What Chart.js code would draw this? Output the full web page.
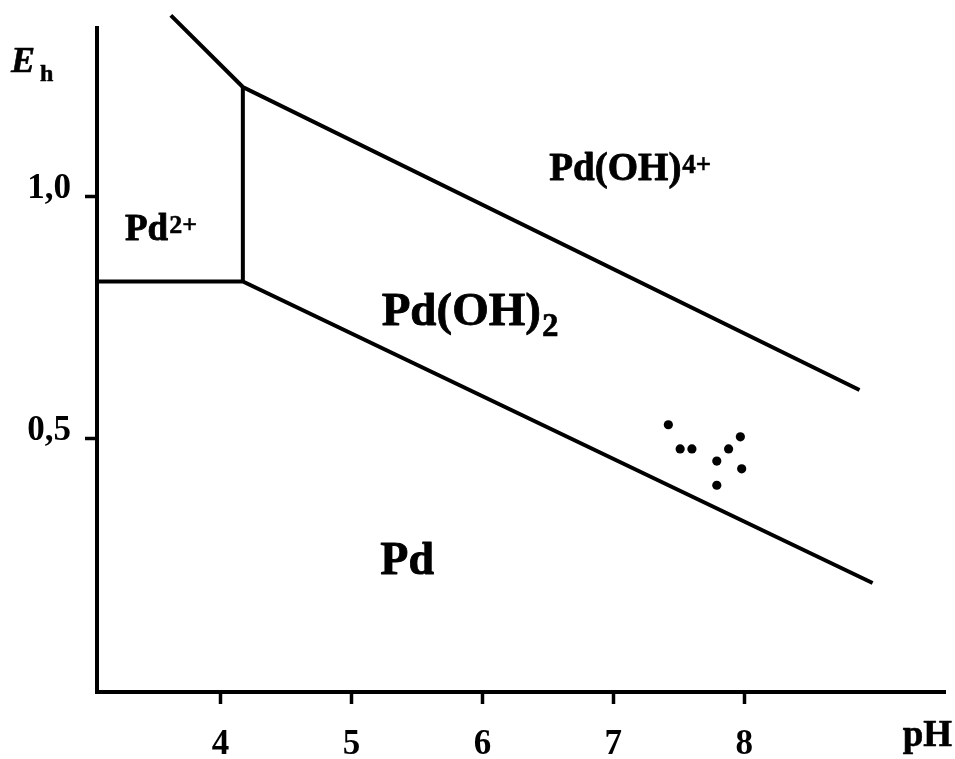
<!DOCTYPE html>
<html>
<head>
<meta charset="utf-8">
<script src="https://cdn.jsdelivr.net/npm/chart.js@4"></script>
<style>
  html, body { margin: 0; padding: 0; background: #fff; }
  canvas { display: block; }
</style>
</head>
<body>
<canvas id="chart" width="955" height="759"></canvas>
<script>
/* Pourbaix-type Eh–pH diagram for palladium. */
(function () {
  "use strict";

  // ── Data ───────────────────────────────────────────────────────
  var xTicks = [4, 5, 6, 7, 8];
  var yTicks = [0.5, 1.0];

  // Boundary lines (pH, Eh)
  var upperPH = [3.62, 4.17, 8.88];
  var upperEh = [1.375, 1.227, 0.601];
  var wallPH = [4.17, 4.17];
  var wallEh = [1.227, 0.825];
  var lowerPH = [3.056, 4.17, 8.98];
  var lowerEh = [0.825, 0.825, 0.202];

  // Sample points
  var samplePH = [7.42, 7.51, 7.60, 7.79, 7.88, 7.97, 7.98, 7.79];
  var sampleEh = [0.529, 0.479, 0.479, 0.454, 0.479, 0.504, 0.438, 0.404];

  // Field labels
  var fieldText = ["Pd", "Pd(OH)", "Pd(OH)", "Pd"];
  var fieldSup = ["2+", "4+", "", ""];
  var fieldSub = ["", "", "2", ""];
  var fieldPH = [3.27, 6.51, 5.23, 5.22];
  var fieldEh = [0.911, 1.035, 0.736, 0.221];
  var fieldSize = [37, 39, 47, 46];

  var serif = "'Liberation Serif', 'DejaVu Serif', serif";
  var black = "#000";

  function pts(xs, ys) {
    return xs.map(function (x, i) { return { x: x, y: ys[i] }; });
  }

  function lineSet(xs, ys) {
    return {
      type: "line",
      data: pts(xs, ys),
      borderColor: black,
      borderWidth: 4,
      pointRadius: 0,
      tension: 0,
      clip: false,
    };
  }

  // heavy text: fill plus a thin stroke, like the scanned original
  function heavyText(ctx, t, x, y, w) {
    ctx.fillText(t, x, y);
    ctx.lineWidth = w;
    ctx.strokeText(t, x, y);
  }

  // ── Text overlay: field names and axis titles ─────────────────
  var labelsPlugin = {
    id: "labels",
    afterDraw: function (chart) {
      var ctx = chart.ctx;
      var xs = chart.scales.x;
      var ys = chart.scales.y;
      var area = chart.chartArea;
      ctx.save();
      ctx.fillStyle = black;
      ctx.strokeStyle = black;
      ctx.lineJoin = "round";
      ctx.textAlign = "left";
      ctx.textBaseline = "alphabetic";

      fieldText.forEach(function (t, i) {
        var size = fieldSize[i];
        var px = xs.getPixelForValue(fieldPH[i]);
        var py = ys.getPixelForValue(fieldEh[i]);
        ctx.font = "bold " + size + "px " + serif;
        heavyText(ctx, t, px, py, 0.8);
        var w = ctx.measureText(t).width;
        if (fieldSup[i]) {
          ctx.font = "bold " + Math.round(size * 0.7) + "px " + serif;
          heavyText(ctx, fieldSup[i], px + w + 1, py - size * 0.19, 0.5);
        }
        if (fieldSub[i]) {
          ctx.font = "bold " + Math.round(size * 0.7) + "px " + serif;
          heavyText(ctx, fieldSub[i], px + w + 1, py + size * 0.25, 0.6);
        }
      });

      // Axis titles
      ctx.font = "italic bold 36px " + serif;
      heavyText(ctx, "E", 11, area.top + 44, 0.6);
      ctx.font = "bold 24px " + serif;
      heavyText(ctx, "h", 40, area.top + 53, 0.5);

      ctx.textAlign = "right";
      ctx.font = "bold 37px " + serif;
      heavyText(ctx, "pH", area.right + 7, area.bottom + 54, 0.6);
      ctx.restore();
    },
  };

  new Chart(document.getElementById("chart"), {
    type: "scatter",
    data: {
      datasets: [
        lineSet(upperPH, upperEh),
        lineSet(wallPH, wallEh),
        lineSet(lowerPH, lowerEh),
        {
          type: "scatter",
          data: pts(samplePH, sampleEh),
          backgroundColor: black,
          borderColor: black,
          pointRadius: 4.6,
          borderWidth: 0,
        },
      ],
    },
    options: {
      responsive: false,
      animation: false,
      events: [],
      layout: { padding: { top: 28, right: 10, left: 0, bottom: 0 } },
      plugins: { legend: { display: false }, tooltip: { enabled: false } },
      scales: {
        x: {
          type: "linear",
          min: 3.056,
          max: 9.533,
          afterFit: function (s) {
            s.height = 67;
            s.paddingLeft = 0;
            s.paddingRight = 0;
          },
          afterBuildTicks: function (s) {
            s.ticks = xTicks.map(function (v) { return { value: v }; });
          },
          border: { display: true, color: black, width: 4 },
          grid: {
            drawOnChartArea: false,
            drawTicks: true,
            tickLength: 12,
            tickWidth: 3.5,
            tickColor: black,
          },
          ticks: {
            color: black,
            padding: 20,
            maxRotation: 0,
            font: { family: serif, size: 35, weight: "bold" },
            callback: function (v) { return String(v); },
          },
        },
        y: {
          type: "linear",
          min: -0.0233,
          max: 1.349,
          afterFit: function (s) {
            s.width = 97;
            s.paddingTop = 0;
            s.paddingBottom = 0;
          },
          afterBuildTicks: function (s) {
            s.ticks = yTicks.map(function (v) { return { value: v }; });
          },
          border: { display: true, color: black, width: 4 },
          grid: {
            drawOnChartArea: false,
            drawTicks: true,
            tickLength: 12,
            tickWidth: 3.5,
            tickColor: black,
          },
          ticks: {
            color: black,
            padding: 14,
            labelOffset: -8,
            font: { family: serif, size: 35, weight: "bold" },
            callback: function (v) { return v.toFixed(1).replace(".", ","); },
          },
        },
      },
    },
    plugins: [labelsPlugin],
  });
})();
</script>
</body>
</html>
